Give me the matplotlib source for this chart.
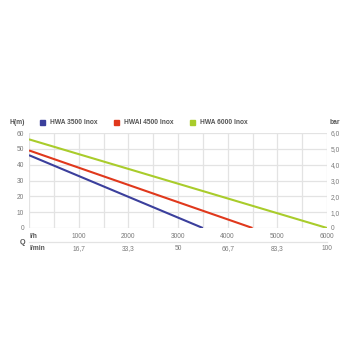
import numpy as np
import matplotlib.pyplot as plt
import matplotlib.transforms as mtransforms

plt.rcParams['font.family'] = ['Liberation Sans', 'DejaVu Sans']

# pump curves: flow (l/h) vs head (m)
series = ['HWA 3500 Inox', 'HWAI 4500 Inox', 'HWA 6000 Inox']
colors = ['#3b3f9c', '#e0381c', '#a9cc2b']
flow_3500 = [0, 3500]
head_3500 = [46, 0]
flow_4500 = [0, 4500]
head_4500 = [49, 0]
flow_6000 = [0, 6000]
head_6000 = [56, 0]

lh_ticks = [1000, 2000, 3000, 4000, 5000, 6000]
lmin_labels = ['16,7', '33,3', '50', '66,7', '83,3', '100']
bar_ticks = [0, 1, 2, 3, 4, 5, 6]
bar_labels = ['0', '1,0', '2,0', '3,0', '4,0', '5,0', '6,0']

grid_c = '#e3e3e3'
txt_c = '#7a7a7a'
dark_c = '#555555'
fs = 4.8

fig = plt.figure(figsize=(3.51, 3.51), dpi=100)
W = H = 351
ax = fig.add_axes([29 / W, 1 - 228 / H, 298 / W, 95 / H])

for x, y, c in zip([flow_3500, flow_4500, flow_6000],
                   [head_3500, head_4500, head_6000], colors):
    ax.plot(x, y, color=c, lw=1.5, solid_capstyle='butt', zorder=3)

ax.set_xlim(0, 6000)
ax.set_ylim(0, 60)
ax.set_xticks(np.arange(0, 6001, 500))
ax.set_yticks(range(0, 61, 10))
ax.grid(True, color=grid_c, lw=0.9)
for s in ax.spines.values():
    s.set_visible(False)
ax.tick_params(length=0, labelsize=fs, colors=txt_c, pad=3.5)
ax.set_xticklabels([])

ax2 = ax.twinx()
ax2.set_ylim(0, 6)
ax2.set_yticks(bar_ticks)
ax2.set_yticklabels(bar_labels)
ax2.tick_params(length=0, labelsize=fs, colors=txt_c, pad=2.5)
for s in ax2.spines.values():
    s.set_visible(False)

# flow rows below the chart
tr = mtransforms.blended_transform_factory(ax.transData, fig.transFigure)
for v, lm in zip(lh_ticks, lmin_labels):
    ax.text(v, 1 - 237 / H, str(v), transform=tr, ha='center', va='center',
            fontsize=fs, color=txt_c)
    ax.text(v, 1 - 249 / H, lm, transform=tr, ha='center', va='center',
            fontsize=fs, color=txt_c)
ax.plot([0, 6000], [1 - 242 / H] * 2, transform=tr, color=grid_c, lw=0.9,
        clip_on=False)
fig.text(30 / W, 1 - 237 / H, 'l/h', fontsize=fs, color=dark_c,
         fontweight='bold', va='center')
fig.text(30 / W, 1 - 249 / H, 'l/min', fontsize=fs, color=dark_c,
         fontweight='bold', va='center')
fig.text(23 / W, 1 - 242 / H, 'Q', fontsize=5.2, color=dark_c,
         fontweight='bold', va='center', ha='center')

# header: units and legend
fig.text(10 / W, 1 - 122 / H, 'H(m)', fontsize=fs, color=dark_c,
         fontweight='bold', va='center')
fig.text(330 / W, 1 - 122 / H, 'bar', fontsize=fs, color=dark_c,
         fontweight='bold', va='center')
for name, c, xs in zip(series, colors, [40, 114, 190]):
    fig.patches.append(plt.Rectangle((xs / W, 1 - 124.5 / H), 5 / W, 5 / H,
                                     transform=fig.transFigure, color=c))
    fig.text((xs + 10) / W, 1 - 122 / H, name, fontsize=fs, color=dark_c,
             fontweight='bold', va='center')

fig.savefig('out.png', dpi=100, facecolor='white')
